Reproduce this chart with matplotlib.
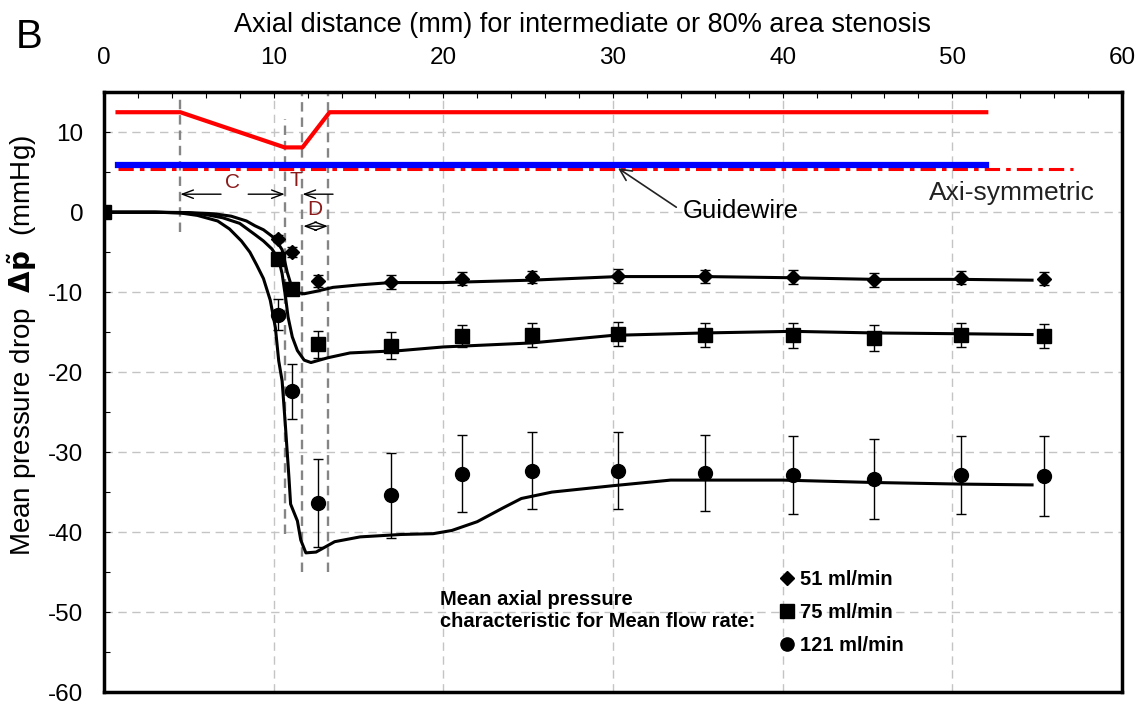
import matplotlib
matplotlib.use('Agg')
import matplotlib.pyplot as plt
from matplotlib.lines import Line2D

plt.rcParams['font.family'] = ['Liberation Sans', 'DejaVu Sans']
plt.rcParams['axes.unicode_minus'] = False

# measured mean pressure drop (mmHg) with error bars, per flow rate
meas_x = [0, 10.25, 11.1, 12.6, 16.9, 21.1, 25.2, 30.3, 35.4, 40.6, 45.4, 50.5, 55.4]
dp_51 = [0, -3.3, -5.0, -8.6, -8.7, -8.3, -8.1, -8.0, -8.0, -8.1, -8.5, -8.2, -8.3]
err_51 = [0, 0.4, 0.6, 0.8, 0.9, 0.8, 0.8, 0.9, 0.8, 0.9, 0.9, 0.8, 0.8]
dp_75 = [0, -5.9, -9.6, -16.5, -16.7, -15.5, -15.3, -15.2, -15.3, -15.4, -15.7, -15.4, -15.5]
err_75 = [0, 0.5, 0.8, 1.7, 1.7, 1.4, 1.5, 1.5, 1.5, 1.6, 1.6, 1.5, 1.5]
dp_121 = [0, -12.8, -22.4, -36.4, -35.4, -32.7, -32.3, -32.3, -32.6, -32.9, -33.4, -32.9, -33.0]
err_121 = [0, 1.9, 3.4, 5.5, 5.3, 4.85, 4.8, 4.8, 4.8, 4.9, 5.0, 4.9, 5.0]

# simulated axial pressure curves
sim_x_51 = [0, 3, 5, 6.5, 7.5, 8.4, 8.9, 9.4, 9.9, 10.2, 10.5, 10.8, 11.1, 11.5, 11.8,
            12.5, 13.5, 15.0, 16.9, 20.0, 25.2, 30.3, 35.4, 40.6, 45.4, 50.5, 54.7]
sim_dp_51 = [0, 0, -0.05, -0.2, -0.5, -1.1, -1.7, -2.2, -3.0, -3.7, -4.7, -7.5, -9.6, -10.1, -10.2,
             -9.9, -9.4, -9.1, -8.8, -8.8, -8.5, -8.05, -8.05, -8.2, -8.4, -8.4, -8.5]
sim_x_75 = [0, 3, 5, 6, 7.0, 8.0, 8.9, 9.4, 9.9, 10.3, 10.5, 10.7, 10.85, 11.1, 11.4, 11.8,
            12.2, 13.2, 14.5, 17.5, 20.0, 25.2, 30.0, 35.4, 40.6, 45.4, 50.5, 54.7]
sim_dp_75 = [0, 0, -0.1, -0.3, -0.7, -1.4, -2.8, -3.6, -4.6, -5.9, -7.7, -10.6, -13.1, -15.6, -17.3, -18.5,
             -18.8, -18.2, -17.6, -17.3, -16.85, -16.35, -15.4, -15.1, -14.9, -15.1, -15.2, -15.3]
sim_x_121 = [0, 3, 4.5, 5.5, 6.7, 7.4, 8.1, 8.6, 9.0, 9.4, 9.8, 10.1, 10.3, 10.5, 10.7, 10.9,
             11.0, 11.4, 11.6, 11.9, 12.5, 13.6, 15.1, 17.5, 19.4, 20.5, 22.0, 23.5, 24.6, 26.4,
             30.0, 33.4, 40.0, 45.4, 50.5, 54.7]
sim_dp_121 = [0, 0, -0.1, -0.4, -1.1, -2.1, -3.6, -5.0, -6.6, -8.3, -11.0, -14.4, -18.6, -21.1, -26.9, -33.1,
              -36.5, -38.6, -41.0, -42.6, -42.5, -41.2, -40.6, -40.3, -40.2, -39.8, -38.7, -37.0, -35.8, -35.0,
              -34.2, -33.5, -33.5, -33.8, -34.0, -34.1]

# stenosis geometry (schematic), guidewire and axi-symmetric reference lines
geom_x = [0.8, 4.5, 10.65, 11.7, 13.3, 52.0]
geom_y = [12.5, 12.5, 8.1, 8.1, 12.5, 12.5]
wire_x = [0.8, 52.0]
wire_y = [5.9, 5.9]
axisym_x = [0.8, 57.1]
axisym_y = [5.4, 5.4]

# section boundaries: converging (C), throat (T), diverging (D)
bound_x = [4.5, 10.65, 11.7, 13.2]
bound_top = [15, 11.7, 15, 15]
bound_bottom = [-2.5, -40.2, -45, -45]

flow_labels = ['51 ml/min', '75 ml/min', '121 ml/min']

fig = plt.figure(figsize=(11.4, 7.04), dpi=100)
ax = fig.add_axes([0.0912, 0.017, 0.893, 0.852])
ax.set_xlim(0, 60)
ax.set_ylim(-60, 15)

ax.xaxis.tick_top()
ax.xaxis.set_label_position('top')
ax.set_xticks(range(0, 61, 10))
ax.set_xticks(range(0, 61, 2), minor=True)
ax.set_yticks(range(-60, 11, 10))
ax.set_yticks(range(-60, 16, 5), minor=True)
ax.tick_params(axis='both', which='both', direction='in', labelsize=17.5, length=4, width=0.8)
ax.tick_params(axis='x', which='major', pad=17)
ax.tick_params(axis='y', which='major', pad=15)
ax.grid(True, which='major', color='#c4c4c4', linestyle=(0, (6, 4)), linewidth=1)
for sp in ax.spines.values():
    sp.set_linewidth(2.5)

ax.set_xlabel('Axial distance (mm) for intermediate or 80% area stenosis', fontsize=19.5)
ax.xaxis.set_label_coords(0.47, 1.101)
ax.set_ylabel(r'Mean pressure drop  $\mathbf{\Delta}\tilde{\mathbf{p}}$  (mmHg)', fontsize=20)
ax.yaxis.set_label_coords(-0.064, 0.578)

ax.vlines(bound_x, bound_bottom, bound_top, colors='#858585', linestyles=(0, (4, 2.5)), linewidth=1.7, zorder=2)

ax.plot(geom_x, geom_y, color='#ff0000', lw=3, zorder=3)
ax.plot(axisym_x, axisym_y, color='#ff0000', lw=2.2, linestyle=(0, (5, 2, 1.5, 2)), zorder=3)
ax.plot(wire_x, wire_y, color='#0000ff', lw=4.5, zorder=3)

for sx, sy in [(sim_x_51, sim_dp_51), (sim_x_75, sim_dp_75), (sim_x_121, sim_dp_121)]:
    ax.plot(sx, sy, color='k', lw=2.2, solid_joinstyle='round', zorder=4)

ax.errorbar(meas_x, dp_121, yerr=err_121, fmt='o', ms=10, color='k', elinewidth=1, capsize=3.5, capthick=1, zorder=5)
ax.errorbar(meas_x, dp_51, yerr=err_51, fmt='D', ms=7.5, color='k', elinewidth=1, capsize=3.5, capthick=1, zorder=5)
ax.errorbar(meas_x, dp_75, yerr=err_75, fmt='s', ms=9.5, color='k', elinewidth=1, capsize=3.5, capthick=1, zorder=6)

# section markers
arrow = dict(arrowstyle='->,head_length=0.8,head_width=0.3', lw=1, color='k', shrinkA=0, shrinkB=0)
ax.annotate('', xy=(4.5, 2.25), xytext=(6.9, 2.25), arrowprops=arrow)
ax.annotate('', xy=(10.65, 2.25), xytext=(8.5, 2.25), arrowprops=arrow)
ax.annotate('', xy=(11.7, 2.25), xytext=(13.5, 2.25), arrowprops=arrow)
ax.annotate('', xy=(11.75, -1.75), xytext=(13.2, -1.75),
            arrowprops=dict(arrowstyle='<->,head_length=0.8,head_width=0.3', lw=1, color='k', shrinkA=0, shrinkB=0))
sec_color = '#8b1a1a'
ax.text(7.6, 3.7, 'C', color=sec_color, fontsize=15, ha='center', va='center')
ax.text(11.3, 3.9, 'T', color=sec_color, fontsize=15, ha='center', va='center')
ax.text(12.45, 0.3, 'D', color=sec_color, fontsize=15, ha='center', va='center')

ax.annotate('Guidewire', xy=(30.3, 5.5), xytext=(34.1, 0.1), fontsize=18.5, ha='left', va='center',
            arrowprops=dict(arrowstyle='->,head_length=0.45,head_width=0.22', lw=1.2, color='#222222',
                            relpos=(0, 0.5), shrinkA=3, shrinkB=0))
ax.text(48.6, 2.4, 'Axi-symmetric', fontsize=19, ha='left', va='center', color='#222222')

# legend for the flow rates
handles = [Line2D([], [], marker=m, ms=s, color='k', ls='none') for m, s in [('D', 7), ('s', 9.5), ('o', 9.5)]]
ax.legend(handles, flow_labels, loc='upper left', bbox_to_anchor=(0.664, 0.203), frameon=False,
          prop=dict(weight='bold', size=14.5), handlelength=0.7, handletextpad=0.3,
          labelspacing=0.68, borderpad=0, borderaxespad=0)
ax.text(19.8, -49.75, 'Mean axial pressure\ncharacteristic for Mean flow rate:', fontsize=14.5,
        fontweight='bold', ha='left', va='center', linespacing=1.2)

fig.text(0.014, 0.948, 'B', fontsize=29, ha='left', va='center')

fig.savefig('out.png', dpi=100)
